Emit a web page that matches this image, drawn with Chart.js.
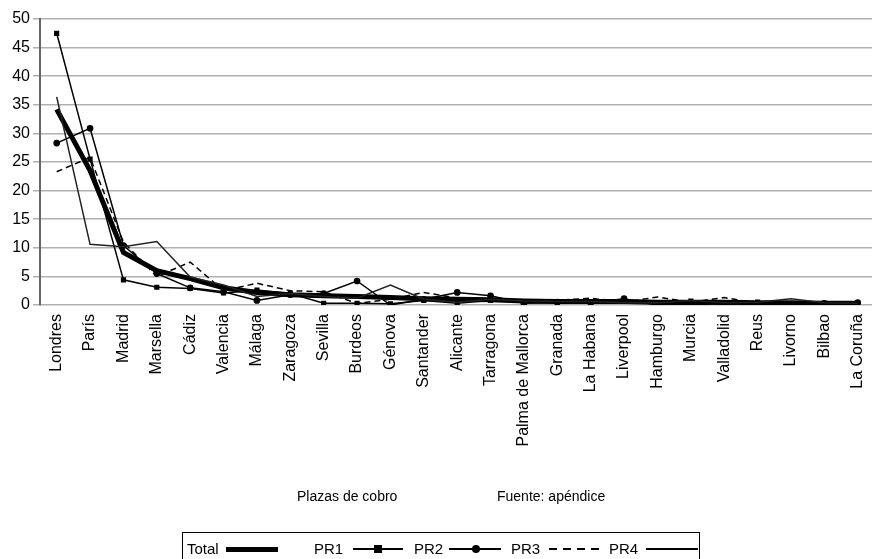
<!DOCTYPE html>
<html>
<head>
<meta charset="utf-8">
<script src="https://cdn.jsdelivr.net/npm/chart.js@4/dist/chart.umd.min.js"></script>
<style>
  html, body { margin: 0; padding: 0; background: #fff; }
  body { width: 872px; height: 559px; overflow: hidden; position: relative; font-family: "Liberation Sans", Arial, sans-serif; }
  #wrap { position: absolute; left: 0; top: 0; width: 886px; height: 559px; }
  .cap { position: absolute; top: 488px; font-size: 14px; color: #000; }
  #legend { position: absolute; left: 182px; top: 532px; width: 518px; height: 40px; border: 1px solid #000; box-sizing: border-box; }
  .lt { position: absolute; top: 8px; font-size: 15px; line-height: 16px; }
  .ln { position: absolute; height: 2px; background: #000; }
  .mk { position: absolute; background: #000; }
</style>
</head>
<body>
<div id="wrap"><canvas id="chart"></canvas></div>
<div class="cap" style="left:297px">Plazas de cobro</div>
<div class="cap" style="left:497px">Fuente: apéndice</div>
<div id="legend"></div>
<script>
const categories = ["Londres", "París", "Madrid", "Marsella", "Cádiz", "Valencia", "Málaga", "Zaragoza",
  "Sevilla", "Burdeos", "Génova", "Santander", "Alicante", "Tarragona", "Palma de Mallorca", "Granada",
  "La Habana", "Liverpool", "Hamburgo", "Murcia", "Valladolid", "Reus", "Livorno", "Bilbao", "La Coruña"];
const total = [34.2, 23.5, 9.2, 6.0, 4.6, 3.0, 2.2, 1.8, 1.6, 1.5, 1.3, 1.1, 1.0, 0.9, 0.7, 0.6, 0.6, 0.6, 0.5, 0.5, 0.5, 0.4, 0.4, 0.3, 0.3];
const pr1 = [47.5, 25.5, 4.4, 3.1, 2.9, 2.1, 2.6, 2.0, 0.3, 0.3, 0.2, 0.8, 0.3, 0.8, 0.5, 0.4, 0.3, 0.8, 0.1, 0.7, 0.1, 0.5, 0.2, 0.3, 0.3];
const pr2 = [28.3, 30.9, 10.4, 5.5, 3.0, 2.3, 0.8, 1.8, 2.0, 4.2, 0.0, 1.0, 2.2, 1.6, 0.3, 0.5, 0.4, 1.1, 0.0, 0.1, 0.2, 0.3, 0.0, 0.3, 0.4];
const pr3 = [23.3, 25.8, 11.0, 5.0, 7.5, 2.5, 3.8, 2.5, 2.3, 0.3, 1.0, 2.2, 1.2, 0.8, 0.8, 0.8, 1.2, 0.5, 1.4, 0.5, 1.3, 0.3, 0.3, 0.3, 0.3];
const pr4 = [36.4, 10.6, 10.2, 11.1, 4.9, 3.5, 1.5, 2.0, 1.5, 1.2, 3.5, 1.0, 0.5, 1.0, 0.7, 0.6, 0.6, 0.4, 0.4, 0.8, 0.4, 0.5, 1.1, 0.4, 0.3];
const yTicks = [0, 5, 10, 15, 20, 25, 30, 35, 40, 45, 50];

const font = "'Liberation Sans', Arial, sans-serif";

const line = (label, data, extra) => Object.assign({
  label, data,
  borderColor: "#000", backgroundColor: "#000",
  borderWidth: 1.5, pointRadius: 0, tension: 0, fill: false,
}, extra);

new Chart(document.getElementById("chart"), {
  type: "line",
  data: {
    labels: categories,
    datasets: [
      line("PR4", pr4, { borderColor: "#222" }),
      line("PR3", pr3, { borderDash: [6, 4] }),
      line("PR2", pr2, { pointStyle: "circle", pointRadius: 2.6 }),
      line("PR1", pr1, { pointStyle: "rect", pointRadius: 2.6 }),
      line("Total", total, { borderWidth: 5 }),
    ],
  },
  options: {
    responsive: true,
    maintainAspectRatio: false,
    animation: false,
    layout: { padding: { top: 19, right: 0, left: 0, bottom: 0 } },
    plugins: { legend: { display: false }, tooltip: { enabled: false } },
    scales: {
      x: {
        offset: true,
        grid: { display: false, drawTicks: false },
        border: { display: false },
        ticks: { color: "#000", font: { family: font, size: 16 }, minRotation: 90, maxRotation: 90, padding: 9, autoSkip: false },
        afterFit: (scale) => { scale.height = 254; },
      },
      y: {
        min: 0, max: 50,
        afterBuildTicks: (scale) => { scale.ticks = yTicks.map((v) => ({ value: v })); },
        grid: { color: "#b0b0b0", lineWidth: 1.5, tickLength: 7 },
        border: { color: "#666", width: 2 },
        ticks: { color: "#000", font: { family: font, size: 16 }, padding: 3 },
        afterFit: (scale) => { scale.width = 40; },
      },
    },
  },
});

// legend built as html
const lg = document.getElementById("legend");
const add = (html) => lg.insertAdjacentHTML("beforeend", html);
const ox = 182;
add(`<span class="lt" style="left:${186 - ox}px">Total</span>`);
add(`<div class="ln" style="left:${225 - ox}px;width:52px;top:14px;height:5px"></div>`);
add(`<span class="lt" style="left:${313 - ox}px">PR1</span>`);
add(`<div class="ln" style="left:${352 - ox}px;width:50px;top:15px"></div>`);
add(`<div class="mk" style="left:${373 - ox}px;top:12px;width:8px;height:8px"></div>`);
add(`<span class="lt" style="left:${413 - ox}px">PR2</span>`);
add(`<div class="ln" style="left:${448 - ox}px;width:52px;top:15px"></div>`);
add(`<div class="mk" style="left:${471 - ox}px;top:12px;width:8px;height:8px;border-radius:50%"></div>`);
add(`<span class="lt" style="left:${510 - ox}px">PR3</span>`);
add(`<div class="ln" style="left:${548 - ox}px;width:50px;top:15px;background:repeating-linear-gradient(90deg,#000 0 8px,transparent 8px 14px)"></div>`);
add(`<span class="lt" style="left:${608 - ox}px">PR4</span>`);
add(`<div class="ln" style="left:${645 - ox}px;width:52px;top:15px"></div>`);
</script>
</body>
</html>
